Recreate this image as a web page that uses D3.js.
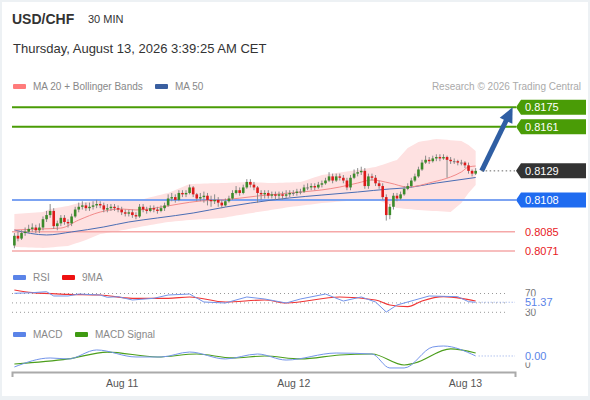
<!DOCTYPE html>
<html>
<head>
<meta charset="utf-8">
<script src="https://cdn.jsdelivr.net/npm/d3@7"></script>
<style>
  html, body { margin: 0; padding: 0; background: #edf1f4; }
  svg { display: block; font-family: "Liberation Sans", Arial, sans-serif; }
</style>
</head>
<body>
<svg id="chart" width="590" height="400"></svg>
<script>
const symbol = 'USD/CHF';
const period = '30 MIN';
const stamp = 'Thursday, August 13, 2026 3:39:25 AM CET';
const credit = 'Research \u00a9 2026 Trading Central';

// 30 minute candles, first one at Aug 10 09:00 UTC
const firstCandle = Date.UTC(2026, 7, 10, 9, 0);
const candleStep = 30 * 60 * 1000;
const firstOpen = 0.8075;

const closes = [
  0.8082, 0.8080, 0.8084, 0.8085, 0.8087, 0.8088, 0.8086, 0.8088, 0.8094, 0.8097,
  0.8100, 0.8089, 0.8091, 0.8095, 0.8092, 0.8091, 0.8096, 0.8101, 0.8103, 0.8104,
  0.8102, 0.8103, 0.8104, 0.8105, 0.8104, 0.8101, 0.8102, 0.8103, 0.8102, 0.8101,
  0.8099, 0.8098, 0.8099, 0.8097, 0.8096, 0.8103, 0.8101, 0.8100, 0.8102, 0.8101,
  0.8100, 0.8102, 0.8104, 0.8109, 0.8110, 0.8108, 0.8113, 0.8112, 0.8113, 0.8117,
  0.8112, 0.8109, 0.8110, 0.8111, 0.8108, 0.8107, 0.8108, 0.8106, 0.8104, 0.8107,
  0.8109, 0.8113, 0.8115, 0.8113, 0.8117, 0.8121, 0.8119, 0.8117, 0.8113, 0.8112,
  0.8113, 0.8111, 0.8112, 0.8111, 0.8112, 0.8111, 0.8112, 0.8113, 0.8113, 0.8114,
  0.8114, 0.8117, 0.8117, 0.8118, 0.8117, 0.8119, 0.8120, 0.8122, 0.8125, 0.8122,
  0.8125, 0.8124, 0.8122, 0.8117, 0.8124, 0.8127, 0.8128, 0.8129, 0.8118, 0.8125,
  0.8124, 0.8120, 0.8118, 0.8110, 0.8097, 0.8103, 0.8111, 0.8109, 0.8112, 0.8116,
  0.8118, 0.8122, 0.8125, 0.8130, 0.8135, 0.8137, 0.8136, 0.8138, 0.8139, 0.8138,
  0.8139, 0.8137, 0.8136, 0.8136, 0.8135, 0.8135, 0.8133, 0.8129, 0.8127, 0.8129
];
const highs = [
  0.8084, 0.8085, 0.8086, 0.8088, 0.8090, 0.8091, 0.8090, 0.8091, 0.8096, 0.8100,
  0.8105, 0.8102, 0.8093, 0.8097, 0.8097, 0.8094, 0.8098, 0.8103, 0.8106, 0.8107,
  0.8106, 0.8106, 0.8107, 0.8108, 0.8107, 0.8106, 0.8105, 0.8105, 0.8105, 0.8104,
  0.8103, 0.8101, 0.8101, 0.8101, 0.8099, 0.8105, 0.8105, 0.8103, 0.8104, 0.8104,
  0.8103, 0.8104, 0.8106, 0.8112, 0.8113, 0.8112, 0.8115, 0.8115, 0.8115, 0.8119,
  0.8118, 0.8113, 0.8113, 0.8114, 0.8113, 0.8111, 0.8112, 0.8110, 0.8108, 0.8109,
  0.8111, 0.8115, 0.8118, 0.8117, 0.8119, 0.8123, 0.8123, 0.8121, 0.8118, 0.8115,
  0.8115, 0.8115, 0.8114, 0.8114, 0.8114, 0.8114, 0.8115, 0.8115, 0.8115, 0.8116,
  0.8116, 0.8119, 0.8120, 0.8120, 0.8120, 0.8121, 0.8122, 0.8124, 0.8128, 0.8127,
  0.8127, 0.8127, 0.8126, 0.8124, 0.8126, 0.8130, 0.8131, 0.8132, 0.8131, 0.8127,
  0.8127, 0.8126, 0.8122, 0.8120, 0.8112, 0.8105, 0.8113, 0.8113, 0.8114, 0.8118,
  0.8120, 0.8124, 0.8127, 0.8132, 0.8137, 0.8140, 0.8139, 0.8140, 0.8141, 0.8141,
  0.8141, 0.8140, 0.8139, 0.8138, 0.8137, 0.8137, 0.8136, 0.8135, 0.8130, 0.8131
];
const lows = [
  0.8073, 0.8078, 0.8079, 0.8082, 0.8084, 0.8085, 0.8084, 0.8084, 0.8086, 0.8092,
  0.8095, 0.8087, 0.8086, 0.8089, 0.8090, 0.8088, 0.8089, 0.8095, 0.8099, 0.8101,
  0.8100, 0.8100, 0.8101, 0.8102, 0.8102, 0.8099, 0.8099, 0.8100, 0.8100, 0.8099,
  0.8097, 0.8096, 0.8096, 0.8095, 0.8094, 0.8095, 0.8099, 0.8098, 0.8099, 0.8099,
  0.8098, 0.8099, 0.8100, 0.8103, 0.8107, 0.8106, 0.8107, 0.8110, 0.8110, 0.8112,
  0.8110, 0.8107, 0.8107, 0.8106, 0.8104, 0.8103, 0.8105, 0.8103, 0.8102, 0.8103,
  0.8106, 0.8108, 0.8112, 0.8111, 0.8112, 0.8116, 0.8117, 0.8115, 0.8106, 0.8108,
  0.8109, 0.8109, 0.8109, 0.8108, 0.8108, 0.8108, 0.8109, 0.8110, 0.8111, 0.8111,
  0.8112, 0.8113, 0.8115, 0.8115, 0.8115, 0.8116, 0.8117, 0.8119, 0.8121, 0.8120,
  0.8121, 0.8122, 0.8120, 0.8115, 0.8115, 0.8123, 0.8125, 0.8126, 0.8116, 0.8116,
  0.8122, 0.8118, 0.8116, 0.8108, 0.8093, 0.8094, 0.8101, 0.8107, 0.8108, 0.8111,
  0.8115, 0.8117, 0.8121, 0.8124, 0.8129, 0.8134, 0.8134, 0.8135, 0.8136, 0.8136,
  0.8137, 0.8124, 0.8134, 0.8134, 0.8133, 0.8133, 0.8131, 0.8127, 0.8125, 0.8126
];

// indicator samples, keyed by candle index
const ma20Idx = [0, 7, 13, 18, 24, 30, 34, 41, 46, 52, 58, 68, 77, 86, 91, 96, 100, 105, 110, 117, 122, 125, 127, 129];
const ma20Val = [0.80862, 0.80869, 0.80876, 0.80934, 0.80992, 0.81014, 0.81007, 0.81028, 0.81050, 0.81072, 0.81079, 0.81108,
  0.81130, 0.81152, 0.81173, 0.81202, 0.81224, 0.81202, 0.81173, 0.81209, 0.81246, 0.81282, 0.81318, 0.81325];
const ma50Idx = [0, 9, 16, 25, 32, 40, 50, 59, 66, 77, 86, 96, 105, 109, 118, 129];
const ma50Val = [0.80862, 0.80826, 0.80848, 0.80884, 0.80920, 0.80949, 0.80985, 0.81028, 0.81057, 0.81094, 0.81115, 0.81137,
  0.81159, 0.81166, 0.81202, 0.81242];
const bbUpIdx = [0, 8, 10, 15, 18, 22, 27, 35, 43, 49, 58, 65, 72, 80, 86, 96, 101, 107, 110, 113, 118, 125, 127, 129];
const bbUpVal = [0.80978, 0.80992, 0.81014, 0.81036, 0.81057, 0.81072, 0.81079, 0.81079, 0.81130, 0.81195, 0.81202, 0.81209,
  0.81202, 0.81209, 0.81260, 0.81296, 0.81318, 0.81369, 0.81455, 0.81499, 0.81521, 0.81506, 0.81477, 0.81434];
const bbLoIdx = [0, 8, 15, 20, 24, 29, 35, 43, 49, 58, 68, 77, 86, 96, 101, 107, 113, 122, 125, 127, 129];
const bbLoVal = [0.80739, 0.80732, 0.80746, 0.80790, 0.80833, 0.80855, 0.80884, 0.80920, 0.80934, 0.80949, 0.80992, 0.81028,
  0.81057, 0.81079, 0.81086, 0.81021, 0.81007, 0.80992, 0.81057, 0.81130, 0.81188];

const rsiIdx = [0, 5, 9, 11, 15, 18, 24, 26, 29, 33, 39, 43, 49, 53, 59, 65, 70, 76, 80, 87, 92, 97, 101, 104, 107, 112, 116, 124, 127, 129];
const rsiVal = [70.4, 71.7, 73.8, 64.7, 64.7, 68.9, 66.8, 61.9, 63.2, 56.2, 59.8, 66.8, 68.9, 51.9, 49.8, 62.6, 58.3, 49.8,
  58.3, 68.9, 54.0, 62.6, 51.9, 30.6, 45.5, 56.2, 64.7, 63.2, 52.6, 51.37];
const rsiMaIdx = [0, 5, 15, 24, 33, 43, 49, 59, 70, 76, 91, 101, 105, 110, 114, 120, 125, 129];
const rsiMaVal = [77.4, 71.7, 68.3, 66.8, 59.8, 59.8, 62.6, 51.9, 56.2, 49.8, 62.6, 56.2, 45.5, 41.9, 54.0, 63.2, 59.8, 54.0];
const rsiLevels = [70, 50, 30];

// MACD values in units of 1e-4
const macdIdx = [0, 10, 15, 23, 34, 41, 49, 59, 68, 76, 90, 100, 105, 109, 117, 120, 129];
const macdVal = [-0.33, 0.67, 0.56, 1.56, 0.78, 0.78, 1.33, 0.56, 1.11, 0.44, 1.22, 1.11, -0.44, -0.44, 1.89, 2.0, 0.89];
const signalIdx = [0, 15, 26, 40, 51, 61, 70, 80, 91, 100, 109, 112, 122, 129];
const signalVal = [0, 0.56, 1.33, 0.78, 1.11, 0.67, 0.89, 0.56, 1.0, 1.11, -0.11, 0.11, 1.67, 1.22];

const resistances = [0.8175, 0.8161];
const pivot = 0.8108;
const supports = [0.8085, 0.8071];
const lastPrice = 0.8129;
const target = 0.8175;
const targetTime = Date.UTC(2026, 7, 13, 6, 40);
const dayTicks = [Date.UTC(2026, 7, 11), Date.UTC(2026, 7, 12), Date.UTC(2026, 7, 13)];

const svg = d3.select('#chart');

const x = d3.scaleUtc()
  .domain([Date.UTC(2026, 7, 10, 8, 40), Date.UTC(2026, 7, 13, 7, 0)])
  .range([12, 515]);
const y = d3.scaleLinear().domain([0.8071, 0.8175]).range([251, 107.3]);
const yRsi = d3.scaleLinear().domain([30, 70]).range([312.3, 293.5]);
const yMacd = d3.scaleLinear().domain([0, 2]).range([364, 346]);

const candles = closes.map((c, i) => ({
  t: firstCandle + i * candleStep,
  o: i === 0 ? firstOpen : closes[i - 1],
  c,
  h: highs[i],
  l: lows[i]
}));
const tx = (i) => x(firstCandle + i * candleStep);
const pts = (idx, vals) => idx.map((d, k) => [d, vals[k]]);

// card
svg.append('rect').attr('x', 2).attr('y', 2).attr('width', 586).attr('height', 394).attr('fill', '#fff');

// header
svg.append('text').attr('x', 12).attr('y', 24).attr('font-size', 14).attr('font-weight', 'bold')
  .attr('fill', '#333').text(symbol);
svg.append('text').attr('x', 88).attr('y', 23).attr('font-size', 11).attr('fill', '#333').text(period);
svg.append('text').attr('x', 13).attr('y', 53).attr('font-size', 13).attr('fill', '#333').text(stamp);

function legend(items, yy) {
  items.forEach((it) => {
    svg.append('rect').attr('x', it.x).attr('y', yy - 2.5).attr('width', 13).attr('height', 5)
      .attr('rx', 1).attr('fill', it.color);
    svg.append('text').attr('x', it.x + 20).attr('y', yy).attr('dy', '0.35em')
      .attr('font-size', 10).attr('fill', '#888').text(it.label);
  });
}
legend([
  { x: 13, color: '#ff7b7b', label: 'MA 20 + Bollinger Bands' },
  { x: 155, color: '#3a5fa0', label: 'MA 50' }
], 86.5);
svg.append('text').attr('x', 581).attr('y', 86.5).attr('dy', '0.35em').attr('text-anchor', 'end')
  .attr('font-size', 10).attr('fill', '#aaa').text(credit);

// bollinger band
const upS = d3.scaleLinear().domain(bbUpIdx).range(bbUpVal);
const loS = d3.scaleLinear().domain(bbLoIdx).range(bbLoVal);
svg.append('path')
  .attr('d', d3.area().x((i) => tx(i)).y0((i) => y(loS(i))).y1((i) => y(upS(i)))(d3.range(closes.length)))
  .attr('fill', '#fee1e1');

// level lines
resistances.forEach((p) => {
  svg.append('line').attr('x1', 12).attr('x2', 516).attr('y1', y(p)).attr('y2', y(p))
    .attr('stroke', '#4a9c06').attr('stroke-width', 2);
});
svg.append('line').attr('x1', 12).attr('x2', 516).attr('y1', y(pivot)).attr('y2', y(pivot))
  .attr('stroke', '#7ca3f2').attr('stroke-width', 2);
supports.forEach((p) => {
  svg.append('line').attr('x1', 12).attr('x2', 515).attr('y1', y(p)).attr('y2', y(p))
    .attr('stroke', '#f5a8a8').attr('stroke-width', 1.5);
});

// moving averages
const maLine = d3.line().x((d) => tx(d[0])).y((d) => y(d[1])).curve(d3.curveMonotoneX);
svg.append('path').attr('d', maLine(pts(ma50Idx, ma50Val))).attr('fill', 'none')
  .attr('stroke', '#4a6db4').attr('stroke-width', 1);
svg.append('path').attr('d', maLine(pts(ma20Idx, ma20Val))).attr('fill', 'none')
  .attr('stroke', '#f28a8a').attr('stroke-width', 1);

// candles
const cg = svg.append('g');
cg.selectAll('line').data(candles).join('line')
  .attr('x1', (d) => x(d.t)).attr('x2', (d) => x(d.t))
  .attr('y1', (d) => y(d.h)).attr('y2', (d) => y(d.l))
  .attr('stroke', '#8a8a8a').attr('stroke-width', 1);
cg.selectAll('rect').data(candles).join('rect')
  .attr('x', (d) => x(d.t) - 1.3).attr('width', 2.6)
  .attr('y', (d) => y(Math.max(d.o, d.c)))
  .attr('height', (d) => Math.max(1, Math.abs(y(d.o) - y(d.c))))
  .attr('fill', (d) => (d.c > d.o ? '#3b8a2a' : d.c < d.o ? '#dd1a1a' : '#777'));

// forecast arrow
const last = candles[candles.length - 1];
const ax0 = x(last.t) + 6, ay0 = y(lastPrice);
const ax1 = x(targetTime), ay1 = y(target);
const len = Math.hypot(ax1 - ax0, ay1 - ay0);
const ux = (ax1 - ax0) / len, uy = (ay1 - ay0) / len;
const headL = 15, headW = 7;
const bx = ax1 - ux * headL, by = ay1 - uy * headL;
svg.append('line').attr('x1', ax0).attr('y1', ay0).attr('x2', bx + ux * 2).attr('y2', by + uy * 2)
  .attr('stroke', '#2f5ea3').attr('stroke-width', 5);
svg.append('path')
  .attr('d', `M${ax1},${ay1}L${bx - uy * headW},${by + ux * headW}L${bx + uy * headW},${by - ux * headW}Z`)
  .attr('fill', '#2f5ea3');

// last price dotted extension
svg.append('line').attr('x1', ax0).attr('x2', 515).attr('y1', y(lastPrice)).attr('y2', y(lastPrice))
  .attr('stroke', '#666').attr('stroke-width', 1).attr('stroke-dasharray', '1.5,2.5');

// price tags
function tag(p, fill) {
  const yc = y(p), h = 15;
  svg.append('path').attr('d', `M516,${yc}L521,${yc - h / 2}H586V${yc + h / 2}H521Z`).attr('fill', fill);
  svg.append('text').attr('x', 525).attr('y', yc).attr('dy', '0.36em').attr('font-size', 11)
    .attr('fill', '#fff').text(p.toFixed(4));
}
resistances.forEach((p) => tag(p, '#4a9c06'));
tag(lastPrice, '#333');
tag(pivot, '#1f6bf0');
supports.forEach((p) => {
  svg.append('text').attr('x', 525).attr('y', y(p)).attr('dy', '0.36em').attr('font-size', 11)
    .attr('fill', '#e8201e').text(p.toFixed(4));
});

// RSI panel
legend([
  { x: 13, color: '#5b84e8', label: 'RSI' },
  { x: 62, color: '#ee1111', label: '9MA' }
], 277.5);
rsiLevels.forEach((v) => {
  svg.append('line').attr('x1', 12).attr('x2', 505).attr('y1', yRsi(v)).attr('y2', yRsi(v))
    .attr('stroke', '#999').attr('stroke-width', 1).attr('stroke-dasharray', '1,3');
});
const rsiLine = d3.line().x((d) => tx(d[0])).y((d) => yRsi(d[1]));
svg.append('path').attr('d', rsiLine.curve(d3.curveMonotoneX)(pts(rsiMaIdx, rsiMaVal))).attr('fill', 'none')
  .attr('stroke', '#f03535').attr('stroke-width', 1.2);
svg.append('path').attr('d', rsiLine.curve(d3.curveLinear)(pts(rsiIdx, rsiVal))).attr('fill', 'none')
  .attr('stroke', '#7394ea').attr('stroke-width', 1);
const rsiLast = rsiVal[rsiVal.length - 1];
svg.append('line').attr('x1', tx(129) + 3).attr('x2', 515).attr('y1', yRsi(rsiLast)).attr('y2', yRsi(rsiLast))
  .attr('stroke', '#8ea6e6').attr('stroke-width', 1).attr('stroke-dasharray', '1,2');
[70, 30].forEach((v) => {
  svg.append('text').attr('x', 525).attr('y', yRsi(v)).attr('dy', '0.35em').attr('font-size', 10)
    .attr('fill', '#777').text(v);
});
svg.append('rect').attr('x', 520).attr('y', yRsi(rsiLast) - 6).attr('width', 40).attr('height', 12.5).attr('fill', '#fff');
svg.append('text').attr('x', 525).attr('y', yRsi(rsiLast)).attr('dy', '0.36em').attr('font-size', 11)
  .attr('fill', '#5b84e8').text(rsiLast.toFixed(2));

// MACD panel
legend([
  { x: 13, color: '#5b84e8', label: 'MACD' },
  { x: 75, color: '#3f9a12', label: 'MACD Signal' }
], 334.5);
const macdLine = d3.line().x((d) => tx(d[0])).y((d) => yMacd(d[1])).curve(d3.curveMonotoneX);
svg.append('path').attr('d', macdLine(pts(signalIdx, signalVal))).attr('fill', 'none')
  .attr('stroke', '#4c9e1c').attr('stroke-width', 1.2);
svg.append('path').attr('d', macdLine(pts(macdIdx, macdVal))).attr('fill', 'none')
  .attr('stroke', '#7394ea').attr('stroke-width', 1);
const macdLast = macdVal[macdVal.length - 1];
svg.append('line').attr('x1', tx(129) + 3).attr('x2', 515).attr('y1', yMacd(macdLast)).attr('y2', yMacd(macdLast))
  .attr('stroke', '#8ea6e6').attr('stroke-width', 1).attr('stroke-dasharray', '1,2');
svg.append('text').attr('x', 525).attr('y', yMacd(0)).attr('dy', '0.35em').attr('font-size', 10)
  .attr('fill', '#777').text('0');
svg.append('rect').attr('x', 520).attr('y', yMacd(macdLast) - 6).attr('width', 40).attr('height', 12.5).attr('fill', '#fff');
svg.append('text').attr('x', 525).attr('y', yMacd(macdLast)).attr('dy', '0.36em').attr('font-size', 11)
  .attr('fill', '#5b84e8').text((macdLast / 10000).toFixed(2));

// time axis
const axis = svg.append('g').attr('transform', 'translate(0,372)')
  .call(d3.axisBottom(x).tickValues(dayTicks).tickFormat(d3.utcFormat('%b %d'))
    .tickSizeInner(0).tickSizeOuter(5).tickPadding(8));
axis.select('.domain').attr('stroke', '#aaa').attr('stroke-width', 2);
axis.selectAll('.tick line').remove();
axis.selectAll('.tick text').attr('fill', '#555').attr('font-size', 10.5)
  .attr('font-family', '"Liberation Sans", Arial, sans-serif');
</script>
</body>
</html>
